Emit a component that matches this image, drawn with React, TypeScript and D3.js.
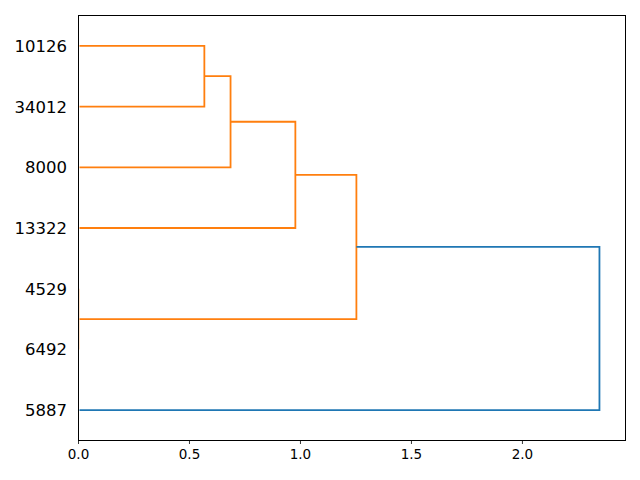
import React from "react";
import * as d3 from "d3";

// Leaves in dendrogram order, bottom to top
const leafLabels = ["5887", "6492", "4529", "13322", "8000", "34012", "10126"];
// Merges: node ids 0..6 are leaves, new nodes start at 7
const mergeLeft = [1, 5, 4, 3, 7, 0];
const mergeRight = [2, 6, 8, 9, 10, 11];
const mergeHeight = [0.0, 0.567, 0.685, 0.977, 1.252, 2.347];
const mergeColor = ["#ff7f0e", "#ff7f0e", "#ff7f0e", "#ff7f0e", "#ff7f0e", "#1f77b4"];
const xTicks = [0, 0.5, 1.0, 1.5, 2.0];

const W = 640;
const H = 480;
const L = 78.5, R = 625.5, T = 15.5, B = 440.5;

export default function App() {
  const n = leafLabels.length;
  const maxH = d3.max(mergeHeight) as number;
  const x = d3.scaleLinear().domain([0, maxH * 1.05]).range([L, R]);
  const y = d3.scaleLinear().domain([0, n * 10]).range([B, T]);

  const pos: number[] = leafLabels.map((_, i) => i * 10 + 5);
  const hgt: number[] = leafLabels.map(() => 0);
  const paths: { d: string; color: string }[] = [];
  mergeLeft.forEach((a, k) => {
    const b = mergeRight[k];
    const h = mergeHeight[k];
    const line = d3.line<[number, number]>().x((p) => x(p[0])).y((p) => y(p[1]));
    const d = line([
      [hgt[a], pos[a]],
      [h, pos[a]],
      [h, pos[b]],
      [hgt[b], pos[b]],
    ]) as string;
    paths.push({ d, color: mergeColor[k] });
    pos.push((pos[a] + pos[b]) / 2);
    hgt.push(h);
  });

  const font = "DejaVu Sans, sans-serif";
  return (
    <svg width={W} height={H} style={{ position: "absolute", left: 0, top: 0 }} fontFamily={font}>
      <defs>
        <clipPath id="plotclip">
          <rect x={L + 1} y={T} width={R - L} height={B - T} />
        </clipPath>
      </defs>
      <rect x={0} y={0} width={W} height={H} fill="#fff" />
      <g clipPath="url(#plotclip)">
        {paths.map((p, i) => (
          <path key={i} d={p.d} fill="none" stroke={p.color} strokeWidth={1.8} />
        ))}
      </g>
      <rect x={L} y={T} width={R - L} height={B - T} fill="none" stroke="#000" strokeWidth={1} />
      {xTicks.map((t) => (
        <g key={t} transform={`translate(${x(t)},${B})`}>
          <line y1={0} y2={3.5} stroke="#000" strokeWidth={0.8} />
          <text y={18} textAnchor="middle" fontSize={13.5} fill="#000">
            {d3.format(".1f")(t)}
          </text>
        </g>
      ))}
      {leafLabels.map((lab, i) => (
        <text key={lab} x={67} y={y(i * 10 + 5)} dy="0.36em" textAnchor="end" fontSize={16.5} fill="#000">
          {lab}
        </text>
      ))}
    </svg>
  );
}
